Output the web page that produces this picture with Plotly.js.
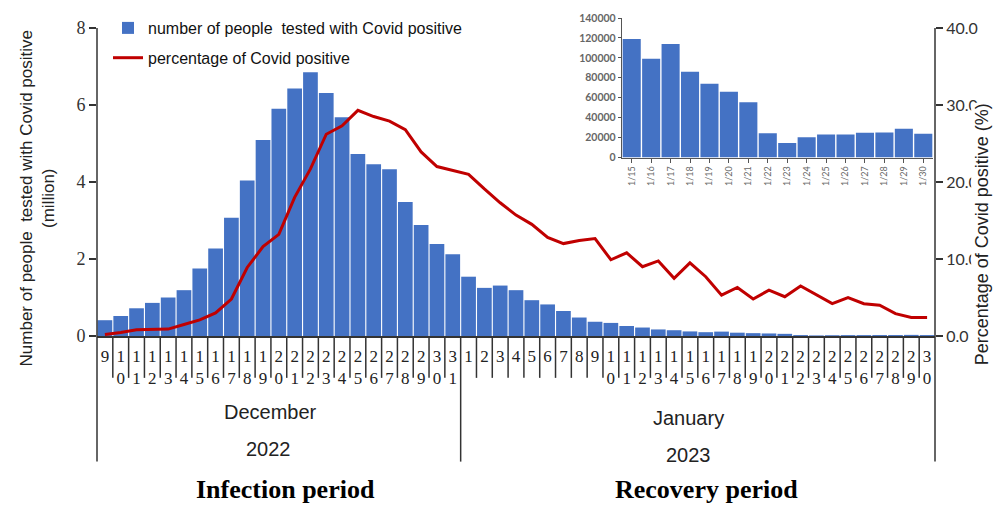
<!DOCTYPE html>
<html><head><meta charset="utf-8">
<script src="https://cdn.plot.ly/plotly-3.0.1.min.js"></script>
<style>html,body{margin:0;padding:0;background:#fff}#chart{width:994px;height:507px}</style>
</head><body><div id="chart"></div>
<script>
// ---- data ----
const decDays = [9,10,11,12,13,14,15,16,17,18,19,20,21,22,23,24,25,26,27,28,29,30,31];
const janDays = [1,2,3,4,5,6,7,8,9,10,11,12,13,14,15,16,17,18,19,20,21,22,23,24,25,26,27,28,29,30];
// number of people tested with Covid positive (million)
const positives = [0.41,0.52,0.72,0.86,1.00,1.19,1.75,2.27,3.07,4.04,5.09,5.90,6.43,6.85,6.31,5.68,4.73,4.46,4.33,3.48,2.88,2.39,2.12,
  1.54,1.25,1.31,1.19,0.93,0.82,0.65,0.48,0.37,0.34,0.26,0.22,0.17,0.15,
  0.119,0.099,0.114,0.086,0.074,0.066,0.056,0.024,0.015,0.020,0.023,0.023,0.025,0.025,0.029,0.024];
// percentage of Covid positive (%)
const percent = [0.2,0.45,0.8,0.88,0.9,1.5,2.1,3.0,4.8,8.9,11.6,13.2,18.0,21.7,26.2,27.3,29.3,28.5,27.9,26.8,23.9,22.0,21.5,
  21.0,19.1,17.3,15.7,14.5,12.8,12.0,12.4,12.65,9.9,10.8,9.0,9.75,7.5,9.5,7.7,5.3,6.3,4.8,5.95,5.1,6.5,5.4,4.2,5.0,4.2,4.0,2.9,2.4,2.4];
// inset: Jan 15 - Jan 30 (people)
const insetLabels = ['1/15','1/16','1/17','1/18','1/19','1/20','1/21','1/22','1/23','1/24','1/25','1/26','1/27','1/28','1/29','1/30'];
const insetCounts = [119000,99000,114000,86000,74000,66000,55600,24500,14700,20400,23100,23100,24800,25100,28800,23800];
const yTicks = [0,2,4,6,8];
const y2Ticks = [0,10,20,30,40];
const y2TickText = ['0.0','10.0','20.0','30.0','40.0'];
const insetTicks = [0,20000,40000,60000,80000,100000,120000,140000];
const legendNames = ['number of people  tested with Covid positive','percentage of Covid positive'];

// ---- build ----
const cats = decDays.map(d => 'Dec ' + d).concat(janDays.map(d => 'Jan ' + d));
const tickText = decDays.concat(janDays).map(d => String(d).split('').join('<br>'));
const n = cats.length;

const W = 994, H = 507, L = 97, R = 59, T = 17, B = 171;
const plotH = H - T - B;            // 319
const yTopFrac = (plotH - 10) / plotH; // value 8 / 40 sits 10px below top
const below = 126 / plotH;          // long dividers
const shortDiv = 42 / plotH;        // short dividers

const blue = '#4472C4', red = '#C00000', ink = '#333';

const traces = [
  {type:'bar', x:cats, y:positives, name:legendNames[0], marker:{color:blue}, xaxis:'x', yaxis:'y', legendgroup:'a', hoverinfo:'skip'},
  {type:'scatter', mode:'lines', x:cats, y:percent, name:legendNames[1], line:{color:red, width:3}, xaxis:'x', yaxis:'y2', legendgroup:'b', hoverinfo:'skip'},
  {type:'bar', x:insetLabels, y:insetCounts, showlegend:false, marker:{color:blue}, xaxis:'x3', yaxis:'y3', hoverinfo:'skip'}
];

const shapes = [];
const ln = {color: ink, width: 1.5};
shapes.push({type:'line', xref:'paper', yref:'paper', x0:0, x1:0, y0:yTopFrac, y1:-below, line:ln});
shapes.push({type:'line', xref:'paper', yref:'paper', x0:1, x1:1, y0:yTopFrac, y1:-below, line:ln});
const split = decDays.length;
shapes.push({type:'line', xref:'paper', yref:'paper', x0:split/n, x1:split/n, y0:0, y1:-below, line:ln});
for (let i = 1; i < n; i++) {
  if (i === split) continue;
  shapes.push({type:'line', xref:'paper', yref:'paper', x0:i/n, x1:i/n, y0:0, y1:-shortDiv, line:ln});
}

const px = v => (v - L) / (W - L - R);
const py = v => (H - B - v) / plotH;

const sans = 'Liberation Sans, Arial, sans-serif';
const serif = 'Liberation Serif, Times New Roman, serif';
function ann(text, x, y, font, angle, bg) {
  const a = {text, xref:'paper', yref:'paper', x:px(x), y:py(y), xanchor:'center', yanchor:'middle',
          textangle: angle || 0, showarrow:false, font};
  if (bg) { a.bgcolor = bg; a.borderpad = 0; }
  return a;
}
const labelFont = {family:sans, size:20, color:'#222'};
const periodFont = {family:serif, size:26, color:'#000'};
const annotations = [
  ann('Number of people  tested with Covid positive<br>(million)', 37, 198, {family:sans, size:17, color:'#222'}, -90),
  ann('Percentage of Covid positive (%)', 982, 234, {family:sans, size:18, color:'#222'}, -90, '#fff'),
  ann('December', 270, 412, labelFont),
  ann('2022', 268, 449, labelFont),
  ann('January', 688, 418, labelFont),
  ann('2023', 688, 455, labelFont),
  ann('<b>Infection period</b>', 285, 490, periodFont),
  ann('<b>Recovery period</b>', 706, 490, periodFont)
];

const layout = {
  width: W, height: H,
  margin: {l:L, r:R, t:T, b:B, pad:0},
  paper_bgcolor:'#fff', plot_bgcolor:'rgba(0,0,0,0)',
  bargap: 0.07,
  showlegend: true,
  legend: {x: px(108), y: py(11), xanchor:'left', yanchor:'top', bgcolor:'rgba(0,0,0,0)', font:{family:sans, size:16, color:'#111'}, tracegroupgap: 6, itemwidth: 30},
  xaxis: {type:'category', range:[-0.5, n - 0.5], tickmode:'array', tickvals:cats, ticktext:tickText, ticks:'', tickangle:0,
          showline:true, linecolor:ink, linewidth:1.5, showgrid:false, zeroline:false,
          tickfont:{family:serif, size:17, color:'#222'}, ticklabelstandoff:4, fixedrange:true},
  yaxis: {range:[0, 8 / yTopFrac], tickmode:'array', tickvals:yTicks, ticks:'outside', ticklen:7, tickwidth:1.5, tickcolor:ink,
          showline:false, showgrid:false, zeroline:false, tickfont:{family:serif, size:18, color:'#333'}, fixedrange:true},
  yaxis2: {overlaying:'y', side:'right', range:[0, 40 / yTopFrac], tickmode:'array', tickvals:y2Ticks, ticktext:y2TickText,
           ticks:'outside', ticklen:7, tickwidth:1.5, tickcolor:ink, showline:false, showgrid:false, zeroline:false,
           tickfont:{family:'Lato, sans-serif', size:16, color:'#333'}, fixedrange:true},
  xaxis3: {domain:[px(622), px(933)], anchor:'y3', type:'category', showline:true, linecolor:'#555', linewidth:1.2,
           ticks:'outside', ticklen:4, tickcolor:'#555', tickangle:-90, showgrid:false, zeroline:false,
           tickfont:{family:'Lato, sans-serif', size:9, color:'#666'}, fixedrange:true},
  yaxis3: {domain:[py(157), 1], anchor:'x3', range:[0,140000], tickmode:'array', tickvals:insetTicks, tickformat:'d',
           showline:true, linecolor:'#555', linewidth:1.2,
           ticks:'outside', ticklen:3, tickcolor:'#555', showgrid:false, zeroline:false,
           tickfont:{family:'Lato, sans-serif', size:10.5, color:'#666', weight:'bold'}, fixedrange:true},
  shapes: shapes,
  annotations: annotations
};

Plotly.newPlot('chart', traces, layout, {displayModeBar:false, staticPlot:true});
</script>
</body></html>
